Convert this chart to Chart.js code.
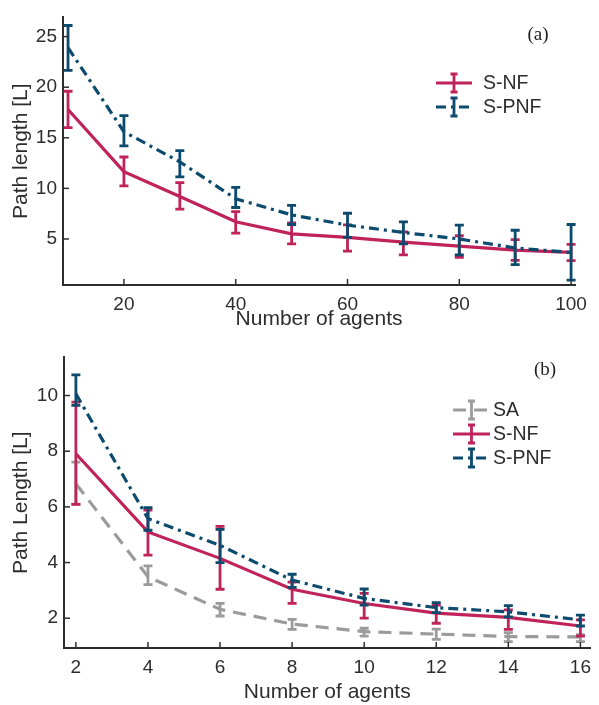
<!DOCTYPE html>
<html>
<head>
<meta charset="utf-8">
<script src="https://cdn.jsdelivr.net/npm/chart.js@4.4.1/dist/chart.umd.min.js"></script>
<style>
  body { margin: 0; background: #fff; }
  .panel { position: absolute; left: 0; }
  #panel-a { top: 0; }
  #panel-b { top: 340px; }
</style>
</head>
<body>
<div class="panel" id="panel-a"><canvas id="chart-a" width="599" height="340"></canvas></div>
<div class="panel" id="panel-b"><canvas id="chart-b" width="599" height="365"></canvas></div>
<script>
// panel (a): 10..100 agents
const AGENTS_A = [10, 20, 30, 40, 50, 60, 70, 80, 90, 100];
const TICKS_XA = [20, 40, 60, 80, 100];
const TICKS_YA = [5, 10, 15, 20, 25];
const SNF_A = [17.8, 11.65, 9.2, 6.7, 5.5, 5.16, 4.69, 4.3, 3.89, 3.67];
const SNF_A_LOW = [16.0, 10.25, 7.95, 5.57, 4.52, 3.8, 3.42, 3.19, 2.88, 2.85];
const SNF_A_HIGH = [19.6, 13.1, 10.56, 7.7, 6.6, 6.4, 5.7, 5.32, 4.94, 4.47];
const PNF_A = [23.9, 15.6, 12.62, 8.97, 7.38, 6.37, 5.64, 5.0, 4.11, 3.67];
const PNF_A_LOW = [21.67, 14.2, 11.13, 8.11, 6.43, 5.16, 4.52, 3.42, 2.47, 0.94];
const PNF_A_HIGH = [26.1, 17.2, 13.73, 10.09, 8.33, 7.54, 6.69, 6.37, 5.86, 6.43];

// panel (b): 2..16 agents
const AGENTS_B = [2, 4, 6, 8, 10, 12, 14, 16];
const TICKS_XB = [2, 4, 6, 8, 10, 12, 14, 16];
const TICKS_YB = [2, 4, 6, 8, 10];
const SA_B = [6.83, 3.49, 2.32, 1.79, 1.52, 1.43, 1.34, 1.33];
const SA_B_LOW = [6.1, 3.21, 2.08, 1.6, 1.36, 1.24, 1.16, 1.16];
const SA_B_HIGH = [7.61, 3.88, 2.53, 1.96, 1.64, 1.61, 1.48, 1.41];
const SNF_B = [7.91, 5.1, 4.15, 3.04, 2.53, 2.18, 2.03, 1.72];
const SNF_B_LOW = [6.09, 4.27, 3.04, 2.53, 2.0, 1.82, 1.6, 1.36];
const SNF_B_HIGH = [9.76, 5.88, 5.3, 3.3, 2.89, 2.47, 2.3, 1.94];
const PNF_B = [10.06, 5.58, 4.62, 3.37, 2.71, 2.38, 2.23, 1.94];
const PNF_B_LOW = [9.65, 5.16, 4.0, 3.11, 2.47, 2.2, 2.05, 1.72];
const PNF_B_HIGH = [10.74, 5.97, 5.19, 3.58, 3.05, 2.56, 2.45, 2.11];

const CRIMSON = '#c0235a';
const NAVY = '#0c4a6e';
const GREY = '#9b9b9b';
const AXIS = '#2d2d2d';
const SANS = "'Liberation Sans', Arial, sans-serif";

const STYLES = {
  'SA': { color: GREY, dash: [13, 8] },
  'S-NF': { color: CRIMSON, dash: [] },
  'S-PNF': { color: NAVY, dash: [10, 5, 3, 5] },
};

function toPoints(xs, ys) {
  return xs.map((x, i) => ({ x, y: ys[i] }));
}

function makeDataset(label, xs, ys, low, high, order) {
  const style = STYLES[label];
  return {
    label,
    data: toPoints(xs, ys),
    low,
    high,
    order,
    borderColor: style.color,
    borderDash: style.dash,
    borderWidth: 3.2,
    pointRadius: 0,
    tension: 0,
    fill: false,
  };
}

function drawErrorGlyph(ctx, x, yTop, yBottom, cap) {
  ctx.beginPath();
  ctx.moveTo(x, yTop);
  ctx.lineTo(x, yBottom);
  ctx.moveTo(x - cap, yTop);
  ctx.lineTo(x + cap, yTop);
  ctx.moveTo(x - cap, yBottom);
  ctx.lineTo(x + cap, yBottom);
  ctx.stroke();
}

const errorBars = {
  id: 'errorBars',
  afterDatasetDraw(chart, args) {
    const ds = chart.data.datasets[args.index];
    const { ctx, scales: { x, y } } = chart;
    ctx.save();
    ctx.strokeStyle = ds.borderColor;
    ctx.lineWidth = 2.8;
    ctx.setLineDash([]);
    ds.data.forEach((p, i) => {
      const px = x.getPixelForValue(p.x);
      drawErrorGlyph(ctx, px, y.getPixelForValue(ds.high[i]), y.getPixelForValue(ds.low[i]), 4.5);
    });
    ctx.restore();
  },
};

const decorations = {
  id: 'decorations',
  afterDraw(chart, args, opts) {
    const { ctx, chartArea: area, scales: { x, y } } = chart;
    ctx.save();
    // inward tick marks
    ctx.strokeStyle = AXIS;
    ctx.lineWidth = 1.5;
    x.ticks.forEach((t) => {
      const px = x.getPixelForValue(t.value);
      ctx.beginPath();
      ctx.moveTo(px, area.bottom);
      ctx.lineTo(px, area.bottom - 6);
      ctx.stroke();
    });
    y.ticks.forEach((t) => {
      const py = y.getPixelForValue(t.value);
      ctx.beginPath();
      ctx.moveTo(area.left, py);
      ctx.lineTo(area.left + 6, py);
      ctx.stroke();
    });

    // legend
    const lg = opts.legend;
    chart.data.datasets
      .slice()
      .sort((a, b) => b.order - a.order)
      .forEach((ds, i) => {
        const cy = lg.top + i * lg.gap;
        const mid = lg.left + lg.length / 2;
        ctx.strokeStyle = ds.borderColor;
        ctx.lineWidth = 2.8;
        ctx.setLineDash(ds.borderDash);
        ctx.beginPath();
        ctx.moveTo(lg.left, cy);
        ctx.lineTo(lg.left + lg.length, cy);
        ctx.stroke();
        ctx.setLineDash([]);
        drawErrorGlyph(ctx, mid, cy - 9, cy + 9, 3.5);
        ctx.fillStyle = AXIS;
        ctx.font = `19.5px ${SANS}`;
        ctx.textAlign = 'left';
        ctx.textBaseline = 'middle';
        ctx.fillText(ds.label, lg.left + lg.length + lg.textGap, cy + 1);
      });

    // panel tag
    ctx.fillStyle = '#222';
    ctx.font = "19px 'Liberation Serif', 'Times New Roman', serif";
    ctx.textAlign = 'center';
    ctx.textBaseline = 'middle';
    ctx.fillText(opts.tag.text, opts.tag.x, opts.tag.y);
    ctx.restore();
  },
};

function makeOptions(cfg) {
  return {
    responsive: false,
    animation: false,
    devicePixelRatio: 1,
    layout: { padding: cfg.padding },
    plugins: {
      legend: { display: false },
      tooltip: { enabled: false },
      decorations: { legend: cfg.legend, tag: cfg.tag },
    },
    scales: {
      x: {
        type: 'linear',
        min: cfg.xMin,
        max: cfg.xMax,
        afterBuildTicks: (scale) => { scale.ticks = cfg.xTicks.map((v) => ({ value: v })); },
        afterFit: (scale) => { scale.height = cfg.xHeight; },
        grid: { display: false, drawTicks: false },
        border: { display: true, color: AXIS, width: 2 },
        ticks: { color: AXIS, font: { family: SANS, size: 19 }, padding: 8, maxRotation: 0 },
        title: { display: true, text: 'Number of agents', color: AXIS, font: { family: SANS, size: 21 }, padding: { top: 0, bottom: cfg.xTitlePad } },
      },
      y: {
        type: 'linear',
        min: cfg.yMin,
        max: cfg.yMax,
        afterBuildTicks: (scale) => { scale.ticks = cfg.yTicks.map((v) => ({ value: v })); },
        afterFit: (scale) => { scale.width = cfg.yWidth; },
        grid: { display: false, drawTicks: false },
        border: { display: true, color: AXIS, width: 2 },
        ticks: { color: AXIS, font: { family: SANS, size: 19 }, padding: 6 },
        title: { display: true, text: cfg.yTitle, color: AXIS, font: { family: SANS, size: 21 }, padding: { top: 9, bottom: 0 } },
      },
    },
  };
}

new Chart(document.getElementById('chart-a'), {
  type: 'line',
  data: {
    datasets: [
      makeDataset('S-NF', AGENTS_A, SNF_A, SNF_A_LOW, SNF_A_HIGH, 1),
      makeDataset('S-PNF', AGENTS_A, PNF_A, PNF_A_LOW, PNF_A_HIGH, 0),
    ],
  },
  options: makeOptions({
    padding: { top: 7, right: 24, bottom: 0, left: 0 },
    xMin: 9.1, xMax: 100.7, xTicks: TICKS_XA, xHeight: 55, xTitlePad: 8,
    yMin: 0.45, yMax: 26.9, yTicks: TICKS_YA, yWidth: 63, yTitle: 'Path length [L]',
    legend: { left: 436, top: 83, gap: 24, length: 36, textGap: 11 },
    tag: { text: '(a)', x: 538, y: 35 },
  }),
  plugins: [errorBars, decorations],
});

new Chart(document.getElementById('chart-b'), {
  type: 'line',
  data: {
    datasets: [
      makeDataset('SA', AGENTS_B, SA_B, SA_B_LOW, SA_B_HIGH, 2),
      makeDataset('S-NF', AGENTS_B, SNF_B, SNF_B_LOW, SNF_B_HIGH, 1),
      makeDataset('S-PNF', AGENTS_B, PNF_B, PNF_B_LOW, PNF_B_HIGH, 0),
    ],
  },
  options: makeOptions({
    padding: { top: 17, right: 2, bottom: 0, left: 0 },
    xMin: 1.67, xMax: 16.28, xTicks: TICKS_XB, xHeight: 57, xTitlePad: 0,
    yMin: 0.93, yMax: 11.37, yTicks: TICKS_YB, yWidth: 64, yTitle: 'Path Length [L]',
    legend: { left: 453, top: 70, gap: 24, length: 37, textGap: 3 },
    tag: { text: '(b)', x: 545, y: 30 },
  }),
  plugins: [errorBars, decorations],
});
</script>
</body>
</html>
